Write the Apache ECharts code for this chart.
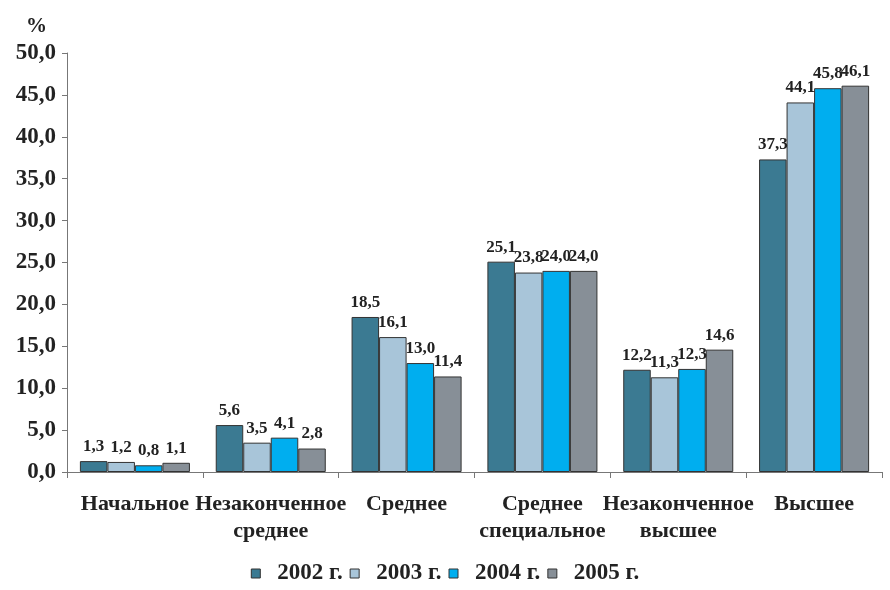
<!DOCTYPE html>
<html>
<head>
<meta charset="utf-8">
<script src="https://cdn.jsdelivr.net/npm/echarts@6/dist/echarts.min.js"></script>
<style>
  html, body { margin: 0; padding: 0; background: #fff; }
  #chart { width: 890px; height: 590px; }
</style>
</head>
<body>
<div id="chart"></div>
<script>
// категории образования
const categories = ['Начальное', 'Незаконченное\nсреднее', 'Среднее', 'Среднее\nспециальное', 'Незаконченное\nвысшее', 'Высшее']
const years = ['2002 г.', '2003 г.', '2004 г.', '2005 г.']
const v2002 = [1.3, 5.6, 18.5, 25.1, 12.2, 37.3]
const v2003 = [1.2, 3.5, 16.1, 23.8, 11.3, 44.1]
const v2004 = [0.8, 4.1, 13.0, 24.0, 12.3, 45.8]
const v2005 = [1.1, 2.8, 11.4, 24.0, 14.6, 46.1]
const colors = ['#3b7a92', '#a8c5d9', '#00aeef', '#878f97']

const font = 'Liberation Serif'
const fmt = v => v.toFixed(1).replace('.', ',')

var myChart = echarts.init(document.getElementById('chart'))
const option = {
  color: colors,
  textStyle: { fontFamily: font },
  legend: {
    bottom: 0,
    left: 'center',
    itemWidth: 9,
    itemHeight: 9,
    itemGap: 7,
    icon: 'rect',
    itemStyle: { borderColor: '#333', borderWidth: 1 },
    textStyle: { fontFamily: font, fontWeight: 'bold', fontSize: 23, color: '#222', padding: [0, 0, 0, 12] },
    data: years
  },
  grid: { left: 67, right: 8, top: 53, bottom: 118 },
  xAxis: {
    type: 'category',
    data: categories,
    axisLine: { lineStyle: { color: '#777', width: 1 } },
    axisTick: { show: true, length: 6, lineStyle: { color: '#777' } },
    axisLabel: {
      fontFamily: font, fontWeight: 'bold', fontSize: 22, color: '#222',
      margin: 19, lineHeight: 27, interval: 0
    }
  },
  yAxis: {
    type: 'value',
    min: 0, max: 50, interval: 5,
    name: '%',
    nameLocation: 'end',
    nameGap: 16,
    nameTextStyle: { fontFamily: font, fontWeight: 'bold', fontSize: 21, color: '#222', align: 'right', padding: [0, 20, 0, 0] },
    splitLine: { show: false },
    axisLine: { show: true, lineStyle: { color: '#777' } },
    axisTick: { show: true, length: 5, lineStyle: { color: '#777' } },
    axisLabel: {
      fontFamily: font, fontWeight: 'bold', fontSize: 23, color: '#222', margin: 11,
      formatter: v => fmt(v)
    }
  },
  series: [v2002, v2003, v2004, v2005].map((d, i) => ({
    name: years[i],
    type: 'bar',
    data: d,
    barGap: '0%',
    barCategoryGap: '19%',
    itemStyle: { borderColor: '#333', borderWidth: 1 },
    label: {
      show: true, position: 'top', distance: 6,
      fontFamily: font, fontWeight: 'bold', fontSize: 17, color: '#222',
      formatter: p => fmt(p.value)
    }
  }))
}
myChart.setOption(option)
</script>
</body>
</html>
